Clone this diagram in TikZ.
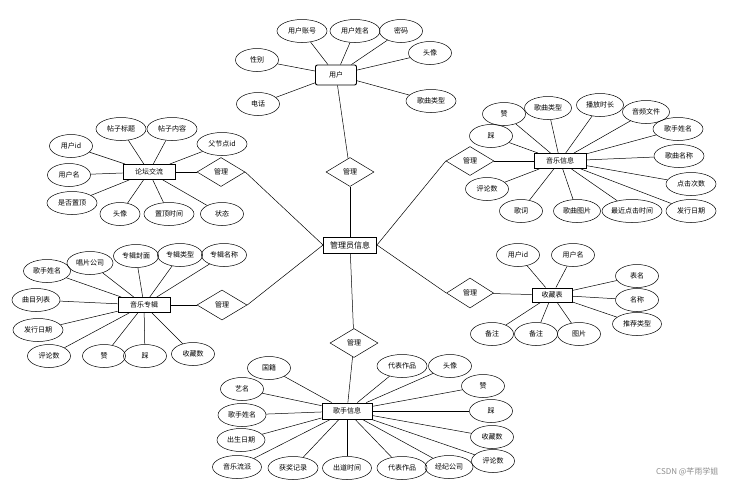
\documentclass[tikz,border=0pt]{standalone}
\usepackage{fontspec}
\setmainfont{Noto Sans CJK SC}
\usetikzlibrary{shapes.geometric}

\begin{document}
\begin{tikzpicture}[x=1pt, y=-1pt,
  attr/.style={ellipse, draw, line width=0.5pt, minimum width=43pt, minimum height=23pt, inner sep=0pt, font=\fontsize{7}{8}\selectfont},
  wattr/.style={attr, minimum width=50pt},
  ent/.style={rectangle, draw, line width=0.9pt, minimum width=52pt, minimum height=15pt, inner sep=1pt, font=\fontsize{7}{8}\selectfont},
  rel/.style={diamond, draw, line width=0.5pt, minimum width=48pt, minimum height=29pt, inner sep=0pt, font=\fontsize{7}{8}\selectfont},
  link/.style={line width=0.5pt}
]
\useasboundingbox (0,0) rectangle (730,485);

% Center: admin
\node[ent, minimum width=53pt, minimum height=16pt, font=\fontsize{8}{9}\selectfont] (admin) at (350,245) {管理员信息};

% User
\node[ent, rounded corners=2pt, minimum width=41pt, minimum height=20pt] (user) at (336,75) {用户};
\node[wattr] (uAcct) at (302,31) {用户账号};
\node[wattr] (uName) at (355,31) {用户姓名};
\node[attr] (uPwd) at (401,31) {密码};
\node[attr] (uHead) at (430,53) {头像};
\node[wattr] (uType) at (431,101) {歌曲类型};
\node[attr] (uSex) at (257,60) {性别};
\node[attr] (uTel) at (258,104) {电话};
\node[rel] (rUser) at (350,172) {管理};
\foreach \a in {uAcct,uName,uPwd,uHead,uType,uSex,uTel}
  \draw[link] (user) -- (\a);
\draw[link] (user) -- (rUser);
\draw[link] (rUser) -- (admin);

% Forum
\node[ent] (forum) at (149,172) {论坛交流};
\node[wattr] (fTitle) at (121,129) {帖子标题};
\node[wattr] (fText) at (172,129) {帖子内容};
\node[wattr] (fParent) at (222,144) {父节点id};
\node[attr] (fUid) at (71,146) {用户id};
\node[attr] (fUname) at (69,175) {用户名};
\node[wattr] (fTop) at (72,203) {是否置顶};
\node[attr, minimum width=40pt] (fHead) at (120,214) {头像};
\node[wattr] (fTime) at (169,214) {置顶时间};
\node[attr] (fState) at (222,214) {状态};
\node[rel] (rForum) at (221,172) {管理};
\foreach \a in {fTitle,fText,fParent,fUid,fUname,fTop,fHead,fTime,fState}
  \draw[link] (forum) -- (\a);
\draw[link] (forum) -- (rForum);
\draw[link] (rForum.east) -- (admin.west);

% Music
\node[ent] (music) at (560,161) {音乐信息};
\node[attr] (mUp) at (504,114) {赞};
\node[attr] (mDown) at (491,136) {踩};
\node[attr, minimum width=47pt] (mType) at (548,108) {歌曲类型};
\node[attr, minimum width=47pt] (mLen) at (600,105) {播放时长};
\node[attr, minimum width=47pt] (mFile) at (646,112) {音频文件};
\node[wattr] (mSinger) at (678,129) {歌手姓名};
\node[wattr] (mName) at (679,156) {歌曲名称};
\node[wattr] (mClicks) at (691,184) {点击次数};
\node[wattr] (mDate) at (691,211) {发行日期};
\node[attr, minimum width=60pt] (mLast) at (632,211) {最近点击时间};
\node[attr, minimum width=47pt] (mPic) at (577,211) {歌曲图片};
\node[attr] (mLyric) at (521,211) {歌词};
\node[attr] (mCmt) at (487,189) {评论数};
\node[rel] (rMusic) at (470,161) {管理};
\foreach \a in {mUp,mDown,mType,mLen,mFile,mSinger,mName,mClicks,mDate,mLast,mPic,mLyric,mCmt}
  \draw[link] (music) -- (\a);
\draw[link] (music) -- (rMusic);
\draw[link] (admin.east) -- (rMusic.west);

% Album
\node[ent] (album) at (144,305) {音乐专辑};
\node[attr, minimum width=46pt] (aCo) at (90,263) {唱片公司};
\node[attr, minimum width=45pt] (aCover) at (136,256) {专辑封面};
\node[attr, minimum width=45pt] (aType) at (180,255) {专辑类型};
\node[attr, minimum width=45pt] (aName) at (224,255) {专辑名称};
\node[attr, minimum width=47pt] (aSinger) at (47,271) {歌手姓名};
\node[attr, minimum width=48pt] (aList) at (36,300) {曲目列表};
\node[wattr] (aDate) at (38,330) {发行日期};
\node[attr] (aCmt) at (49,356) {评论数};
\node[attr] (aUp) at (104,356) {赞};
\node[attr] (aDown) at (145,356) {踩};
\node[attr] (aFav) at (193,354) {收藏数};
\node[rel, minimum width=50pt, minimum height=30pt] (rAlbum) at (222,305) {管理};
\foreach \a in {aCo,aCover,aType,aName,aSinger,aList,aDate,aCmt,aUp,aDown,aFav}
  \draw[link] (album) -- (\a);
\draw[link] (album) -- (rAlbum);
\draw[link] (rAlbum.east) -- (admin.west);

% Favourites
\node[ent, minimum width=40pt, minimum height=14pt] (fav) at (552,295) {收藏表};
\node[attr] (cUid) at (518,255) {用户id};
\node[attr] (cUname) at (573,255) {用户名};
\node[attr] (cTable) at (637,276) {表名};
\node[attr] (cName) at (637,300) {名称};
\node[attr, minimum width=49pt] (cRec) at (637,324) {推荐类型};
\node[attr] (cNote) at (492,334) {备注};
\node[attr] (cNote2) at (536,334) {备注};
\node[attr] (cPic) at (579,334) {图片};
\node[rel, minimum width=47pt, minimum height=30pt] (rFav) at (470,293) {管理};
\foreach \a in {cUid,cUname,cTable,cName,cRec,cNote,cNote2,cPic}
  \draw[link] (fav) -- (\a);
\draw[link] (fav) -- (rFav);
\draw[link] (admin.east) -- (rFav.west);

% Singer
\node[ent, minimum width=50pt, minimum height=16pt] (singer) at (347,411) {歌手信息};
\node[attr] (sNation) at (269,368) {国籍};
\node[attr] (sStage) at (242,389) {艺名};
\node[attr, minimum width=48pt] (sName) at (242,415) {歌手姓名};
\node[attr, minimum width=48pt] (sBirth) at (241,440) {出生日期};
\node[attr, minimum width=49pt] (sGenre) at (237,467) {音乐流派};
\node[wattr] (sAward) at (293,468) {获奖记录};
\node[attr, minimum width=49pt] (sDebut) at (347,468) {出道时间};
\node[wattr] (sWork) at (402,468) {代表作品};
\node[attr, minimum width=48pt] (sAgent) at (449,467) {经纪公司};
\node[attr] (sCmt) at (493,461) {评论数};
\node[attr] (sFav) at (492,437) {收藏数};
\node[attr] (sDown) at (491,411) {踩};
\node[attr] (sUp) at (483,386) {赞};
\node[attr] (sHead) at (450,366) {头像};
\node[wattr] (sWork2) at (402,366) {代表作品};
\node[rel] (rSinger) at (354,343) {管理};
\foreach \a in {sNation,sStage,sName,sBirth,sGenre,sAward,sDebut,sWork,sAgent,sCmt,sFav,sDown,sUp,sHead,sWork2}
  \draw[link] (singer) -- (\a);
\draw[link] (admin) -- (rSinger);
\draw[link] (rSinger) -- (singer);

% Watermark
\node[font=\fontsize{8}{9}\selectfont, text=black!45, anchor=east] (mark) at (722,472) {CSDN @芊雨学姐};
\end{tikzpicture}
\end{document}
